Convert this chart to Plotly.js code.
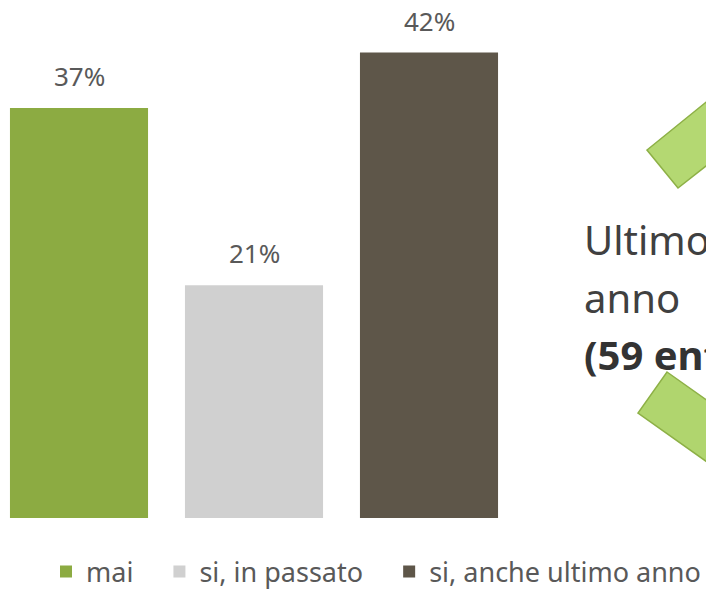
<!DOCTYPE html>
<html>
<head>
<meta charset="utf-8">
<script src="https://cdn.plot.ly/plotly-3.0.1.min.js"></script>
<style>html,body{margin:0;padding:0;background:#fff;}#chart{width:706px;height:589px;}</style>
</head>
<body>
<div id="chart"></div>
<script>
const categories = ["mai", "si, in passato", "si, anche ultimo anno"];
const values = [37, 21, 42];
const labels = ["37%", "21%", "42%"];
const colors = ["#8cab42", "#d0d0d0", "#5e5649"];
const sideLines = ["Ultimo", "anno", "<b>(59 enti)</b>"];

const FONT = "Noto Sans, Open Sans, sans-serif";
const W = 706, H = 589;
const plotBottom = 518;
const pxPerUnit = 410 / 37;
const legendPad = [3, 3, 0];

const traces = categories.map((c, i) => ({
  type: "bar",
  x: [i],
  y: [values[i]],
  name: c + "\u00a0".repeat(legendPad[i]),
  marker: {color: colors[i]},
  width: 0.789,
  hoverinfo: "skip"
}));

const annotations = categories.map((c, i) => ({
  x: i, y: values[i], xref: "x", yref: "y",
  text: labels[i], showarrow: false,
  yanchor: "bottom", yshift: 12,
  font: {family: FONT, size: 26, color: "#595959"}
}));

const sideY = [240, 297, 354];
sideLines.forEach((t, k) => {
  annotations.push({
    xref: "paper", yref: "paper",
    x: 582 / W, y: (plotBottom - sideY[k]) / plotBottom,
    xanchor: "left", yanchor: "middle",
    text: t, showarrow: false,
    font: {family: FONT, size: 40, color: k === 2 ? "#333333" : "#404040"}
  });
});

function px(x) { return x / W; }
function py(y) { return (plotBottom - y) / plotBottom; }
function poly(pts) {
  return "M" + pts.map(p => px(p[0]) + "," + py(p[1])).join(" L") + " Z";
}

const shapes = [
  {type: "path", xref: "paper", yref: "paper",
   path: poly([[647,150],[705,103],[760,60],[790,100],[678,188]]),
   fillcolor: "#b4d872", line: {color: "#8db046", width: 1.5}, layer: "above"},
  {type: "path", xref: "paper", yref: "paper",
   path: poly([[667,372],[760,438],[731,479],[638,413]]),
   fillcolor: "#b0d56e", line: {color: "#8db046", width: 1.5}, layer: "above"}
];

const layout = {
  width: W, height: H,
  margin: {l: 0, r: 0, t: 0, b: H - plotBottom, pad: 0, autoexpand: false},
  paper_bgcolor: "#ffffff", plot_bgcolor: "#ffffff",
  xaxis: {range: [-79/175, -79/175 + W/175], visible: false, fixedrange: true},
  yaxis: {range: [0, plotBottom / pxPerUnit], visible: false, fixedrange: true},
  showlegend: true,
  legend: {
    orientation: "h", x: 46 / W, xanchor: "left",
    y: -(572 - plotBottom) / plotBottom, yanchor: "middle",
    font: {family: FONT, size: 27, color: "#595959"},
    itemclick: false, itemdoubleclick: false, itemwidth: 30
  },
  annotations: annotations,
  shapes: shapes,
  bargap: 0.2
};

Plotly.newPlot("chart", traces, layout, {displayModeBar: false, staticPlot: true});
</script>
</body>
</html>
